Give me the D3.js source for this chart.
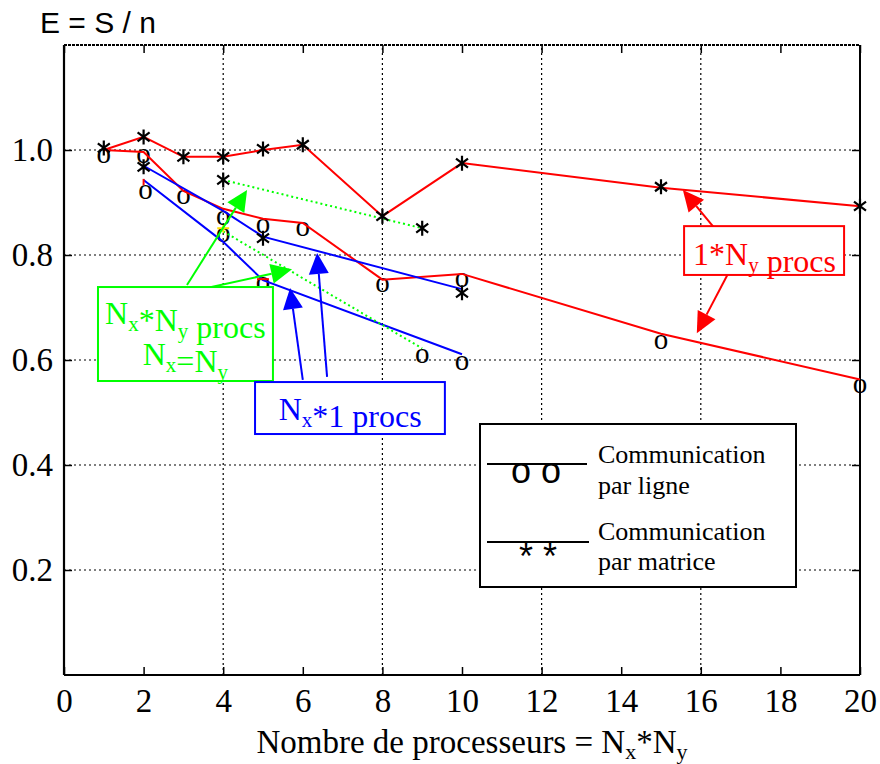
<!DOCTYPE html>
<meta charset="utf-8">
<style>
    body { margin: 0; background: #fff; }
    text { font-family: "Liberation Serif", "Times New Roman", serif; }
    .grid line { stroke: #000; stroke-width: 1.2; stroke-dasharray: 2,3; }
    .axis path { display: none; }
    .axis line { stroke: #000; stroke-width: 1.5; }
    .axis text { font-size: 33px; fill: #000; }
</style>
<body>
<script src="https://cdn.jsdelivr.net/npm/d3@7"></script>
<script>

    var width = 880, height = 764;

    // ticks
    var xTicks = [0, 2, 4, 6, 8, 10, 12, 14, 16, 18, 20];
    var xGrid = [4, 8, 12, 16];
    var yTicks = [0.2, 0.4, 0.6, 0.8, 1.0];

    // 1*Ny procs (red)
    var xRedMat = [1, 2, 3, 4, 5, 6, 8, 10, 15, 20];
    var eRedMat = [1.0, 1.025, 0.987, 0.987, 1.0, 1.01, 0.874, 0.975, 0.928, 0.893];
    var xRedLig = [1, 2, 3, 4, 5, 6, 8, 10, 15, 20];
    var eRedLig = [1.0, 0.996, 0.922, 0.888, 0.869, 0.861, 0.753, 0.764, 0.65, 0.563];

    // Nx*1 procs (blue)
    var xBlueMat = [2, 4, 5, 10];
    var eBlueMat = [0.97, 0.884, 0.835, 0.735];
    var xBlueLig = [2, 4, 5, 10];
    var eBlueLig = [0.943, 0.825, 0.752, 0.611];

    // Nx*Ny procs, Nx=Ny (green, dotted)
    var xGreenMat = [4, 9];
    var eGreenMat = [0.943, 0.851];
    var xGreenLig = [4, 9];
    var eGreenLig = [0.845, 0.622];

    // markers
    var xStar = [1, 2, 3, 4, 5, 6, 8, 10, 15, 20, 2, 4, 5, 9, 10];
    var eStar = [1.004, 1.025, 0.987, 0.987, 1.002, 1.01, 0.874, 0.975, 0.93, 0.893, 0.968, 0.943, 0.832, 0.851, 0.728];
    var xCirc = [1, 2, 2.05, 3, 4, 4, 5, 6, 5, 8, 10, 9, 10, 15, 20];
    var eCirc = [0.987, 0.987, 0.92, 0.91, 0.869, 0.838, 0.855, 0.848, 0.743, 0.741, 0.752, 0.606, 0.594, 0.634, 0.549];

    // small leftover strokes
    var stubs = [
        { color: "#ff0000", x: [2, 2], e: [0.945, 0.933] },
        { color: "#ff0000", x: [4.85, 5.15], e: [0.754, 0.754] },
        { color: "#ffe000", x: [3.85, 4.15], e: [0.851, 0.851] },
        { color: "#ffe000", x: [4, 4], e: [0.857, 0.843] }
    ];

    var x = d3.scaleLinear().domain([0, 20]).range([64, 860]);
    var y = d3.scaleLinear().domain([0, 1.2]).range([675, 45]);

    var svg = d3.select("body").append("svg")
        .attr("width", width)
        .attr("height", height);

    // grid
    var grid = svg.append("g").attr("class", "grid");
    grid.selectAll(".gx").data(xGrid).enter().append("line")
        .attr("x1", function (d) { return x(d); }).attr("x2", function (d) { return x(d); })
        .attr("y1", y(0)).attr("y2", y(1.2));
    grid.selectAll(".gy").data(yTicks).enter().append("line")
        .attr("x1", x(0)).attr("x2", x(20))
        .attr("y1", function (d) { return y(d); }).attr("y2", function (d) { return y(d); });

    // axes
    svg.append("g")
        .attr("class", "axis")
        .attr("transform", "translate(0," + y(0) + ")")
        .call(d3.axisBottom(x).tickValues(xTicks).tickSize(-8).tickPadding(14).tickFormat(d3.format("d")));
    svg.append("g")
        .attr("class", "axis")
        .attr("transform", "translate(0," + y(1.2) + ")")
        .call(d3.axisTop(x).tickValues(xTicks).tickSize(-8).tickFormat(""));
    svg.append("g")
        .attr("class", "axis")
        .attr("transform", "translate(" + x(0) + ",0)")
        .call(d3.axisLeft(y).tickValues(yTicks).tickSize(-8).tickPadding(11).tickFormat(d3.format(".1f")));
    svg.append("g")
        .attr("class", "axis")
        .attr("transform", "translate(" + x(20) + ",0)")
        .call(d3.axisRight(y).tickValues(yTicks).tickSize(-8).tickFormat(""));

    // frame
    svg.append("line").attr("x1", x(0)).attr("x2", x(0)).attr("y1", y(0)).attr("y2", y(1.2))
        .attr("stroke", "#000").attr("stroke-width", 2.2);
    svg.append("line").attr("x1", x(0)).attr("x2", x(20)).attr("y1", y(0)).attr("y2", y(0))
        .attr("stroke", "#000").attr("stroke-width", 2.2);
    svg.append("line").attr("x1", x(20)).attr("x2", x(20)).attr("y1", y(0)).attr("y2", y(1.2))
        .attr("stroke", "#000").attr("stroke-width", 2);
    svg.append("line").attr("x1", x(0)).attr("x2", x(20)).attr("y1", y(1.2)).attr("y2", y(1.2))
        .attr("stroke", "#000").attr("stroke-width", 2).attr("stroke-dasharray", "3,1");

    var line = d3.line()
        .x(function (d) { return x(d[0]); })
        .y(function (d) { return y(d[1]); });

    function pairs(xs, es) { return xs.map(function (v, i) { return [v, es[i]]; }); }

    // circle markers (drawn under the lines)
    svg.selectAll(".circ").data(pairs(xCirc, eCirc)).enter().append("text")
        .attr("x", function (d) { return x(d[0]); })
        .attr("y", function (d) { return y(d[1]) + 6.5; })
        .attr("text-anchor", "middle")
        .style("font-size", "29px")
        .text("o");

    var series = [
        { color: "#ff0000", x: xRedMat, e: eRedMat },
        { color: "#ff0000", x: xRedLig, e: eRedLig },
        { color: "#0000ff", x: xBlueMat, e: eBlueMat },
        { color: "#0000ff", x: xBlueLig, e: eBlueLig },
        { color: "#00ff00", x: xGreenMat, e: eGreenMat, dash: "2,3" },
        { color: "#00ff00", x: xGreenLig, e: eGreenLig, dash: "2,3" }
    ].concat(stubs);

    svg.selectAll(".series").data(series).enter().append("path")
        .attr("class", "series")
        .attr("d", function (s) { return line(pairs(s.x, s.e)); })
        .attr("fill", "none")
        .attr("stroke", function (s) { return s.color; })
        .attr("stroke-width", 2)
        .attr("stroke-dasharray", function (s) { return s.dash || null; });

    // star markers
    var r = 7.5;
    var starPath = "M0," + (-r) + "V" + r +
        "M" + (-r * 0.8) + "," + (-r * 0.6) + "L" + (r * 0.8) + "," + (r * 0.6) +
        "M" + (-r * 0.8) + "," + (r * 0.6) + "L" + (r * 0.8) + "," + (-r * 0.6);
    svg.selectAll(".star").data(pairs(xStar, eStar)).enter().append("path")
        .attr("transform", function (d) { return "translate(" + x(d[0]) + "," + y(d[1]) + ")"; })
        .attr("d", starPath)
        .attr("stroke", "#000")
        .attr("stroke-width", 2.2);

    // annotations (positions in data units)
    function arrow(color, from, tip) {
        var x0 = x(from[0]), y0 = y(from[1]), x1 = x(tip[0]), y1 = y(tip[1]);
        var a = Math.atan2(y1 - y0, x1 - x0), L = 21, W = 10;
        var bx = x1 - L * Math.cos(a), by = y1 - L * Math.sin(a);
        svg.append("line").attr("x1", x0).attr("y1", y0).attr("x2", bx).attr("y2", by)
            .attr("stroke", color).attr("stroke-width", 2);
        svg.append("path")
            .attr("d", "M" + x1 + "," + y1 +
                "L" + (bx + W * Math.sin(a)) + "," + (by - W * Math.cos(a)) +
                "L" + (bx - W * Math.sin(a)) + "," + (by + W * Math.cos(a)) + "Z")
            .attr("fill", color);
    }

    function box(color, x0, e0, x1, e1) {
        svg.append("rect")
            .attr("x", x(x0)).attr("y", y(e0))
            .attr("width", x(x1) - x(x0)).attr("height", y(e1) - y(e0))
            .attr("fill", "#fff").attr("stroke", color).attr("stroke-width", 2);
    }

    function label(color, cx, e, parts) {
        var t = svg.append("text")
            .attr("x", x(cx)).attr("y", y(e))
            .attr("text-anchor", "middle")
            .style("font-size", "32px")
            .attr("fill", color);
        parts.forEach(function (p) {
            if (p[1]) {
                t.append("tspan").attr("dy", 7).style("font-size", "21px").text(p[0]);
                t.append("tspan").attr("dy", -7).text("");
            } else {
                t.append("tspan").text(p[0]);
            }
        });
    }

    // green
    arrow("#00ff00", [3.09, 0.743], [4.6, 0.924]);
    arrow("#00ff00", [3.59, 0.737], [5.73, 0.773]);
    box("#00ff00", 0.854, 0.739, 5.25, 0.56);
    label("#00ff00", 3.05, 0.668, [["N"], ["x", 1], ["*N"], ["y", 1], [" procs"]]);
    label("#00ff00", 3.05, 0.59, [["N"], ["x", 1], ["=N"], ["y", 1]]);

    // blue
    arrow("#0000ff", [6.0, 0.562], [5.68, 0.737]);
    arrow("#0000ff", [6.61, 0.568], [6.36, 0.804]);
    box("#0000ff", 4.8, 0.558, 9.57, 0.459);
    label("#0000ff", 7.19, 0.486, [["N"], ["x", 1], ["*1 procs"]]);

    // red
    arrow("#ff0000", [16.38, 0.848], [15.55, 0.924]);
    arrow("#ff0000", [16.73, 0.771], [15.9, 0.651]);
    box("#ff0000", 15.58, 0.855, 19.6, 0.762);
    label("#ff0000", 17.6, 0.781, [["1*N"], ["y", 1], [" procs"]]);

    // legend
    var lg = svg.append("g");
    lg.append("rect").attr("x", 480).attr("y", 424).attr("width", 316).attr("height", 163)
        .attr("fill", "#fff").attr("stroke", "#000").attr("stroke-width", 2);
    lg.append("line").attr("x1", 487).attr("x2", 587).attr("y1", 464).attr("y2", 464)
        .attr("stroke", "#000").attr("stroke-width", 2);
    lg.append("line").attr("x1", 487).attr("x2", 589).attr("y1", 542).attr("y2", 542)
        .attr("stroke", "#000").attr("stroke-width", 2);
    lg.append("text").attr("x", 536).attr("y", 483).attr("text-anchor", "middle")
        .style("font-family", "'Liberation Sans', Arial, sans-serif").style("font-size", "36px")
        .text("o o");
    lg.append("text").attr("x", 538).attr("y", 569).attr("text-anchor", "middle")
        .style("font-family", "'Liberation Sans', Arial, sans-serif").style("font-size", "36px")
        .text("* *");
    [["Communication", 463], ["par ligne", 494], ["Communication", 540], ["par matrice", 570]].forEach(function (d) {
        lg.append("text").attr("x", 598).attr("y", d[1]).style("font-size", "26px").text(d[0]);
    });

    // axis titles
    svg.append("text").attr("x", 40).attr("y", 33)
        .style("font-family", "'Liberation Sans', Arial, sans-serif").style("font-size", "30px")
        .text("E = S / n");

    var xt = svg.append("text").attr("x", 472).attr("y", 753).attr("text-anchor", "middle")
        .style("font-size", "33px");
    xt.append("tspan").text("Nombre de processeurs = N");
    xt.append("tspan").attr("dy", 6).style("font-size", "22px").text("x");
    xt.append("tspan").attr("dy", -6).text("*N");
    xt.append("tspan").attr("dy", 6).style("font-size", "22px").text("y");

</script>
</body>
